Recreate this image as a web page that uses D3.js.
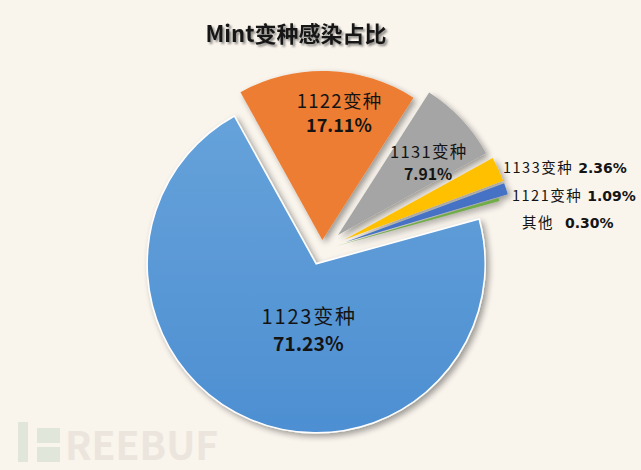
<!DOCTYPE html>
<html><head><meta charset="utf-8">
<script src="https://cdn.jsdelivr.net/npm/d3@7/dist/d3.min.js"></script>
<style>
html,body{margin:0;padding:0;background:#f9f4ec;}
svg{display:block;}
text{font-family:"Noto Sans CJK SC","Noto Sans",sans-serif;}
</style></head>
<body>
<script>
// ---- data ----
const categories = ["1123变种","1122变种","1131变种","1133变种","1121变种","其他"];
const values = [71.23, 17.11, 7.91, 2.36, 1.09, 0.30];
const valueLabels = ["71.23%","17.11%","7.91%","2.36%","1.09%","0.30%"];
const colors = ["#5b9bd5","#ed7d31","#a5a5a5","#ffc000","#4472c4","#70ad47"];
const title = "Mint变种感染占比";

// ---- layout ----
const W = 641, H = 470;
const cx = 322, cy = 250, R = 169;
const explode = [15, 10, 22, 25, 25, 15];
const deg = Math.PI / 180;
const startAngle = 74.6 * deg;
const valFont = "DejaVu Sans, Verdana, sans-serif";

const svg = d3.select("body").append("svg").attr("width", W).attr("height", H);
svg.append("rect").attr("width", W).attr("height", H).attr("fill", "#f9f4ec");

const defs = svg.append("defs");
const f = defs.append("filter").attr("id","sh").attr("x","-20%").attr("y","-20%").attr("width","140%").attr("height","140%");
f.append("feGaussianBlur").attr("in","SourceAlpha").attr("stdDeviation",3).attr("result","b");
f.append("feOffset").attr("in","b").attr("dx",2.5).attr("dy",3).attr("result","o");
f.append("feComponentTransfer").attr("in","o").attr("result","o2")
  .append("feFuncA").attr("type","linear").attr("slope",0.38);
const m = f.append("feMerge");
m.append("feMergeNode").attr("in","o2");
m.append("feMergeNode").attr("in","SourceGraphic");

const tf = defs.append("filter").attr("id","tsh").attr("x","-10%").attr("y","-30%").attr("width","120%").attr("height","160%");
tf.append("feGaussianBlur").attr("in","SourceAlpha").attr("stdDeviation",1.2).attr("result","b");
tf.append("feOffset").attr("in","b").attr("dx",1.5).attr("dy",1.5).attr("result","o");
tf.append("feComponentTransfer").attr("in","o").attr("result","o2")
  .append("feFuncA").attr("type","linear").attr("slope",0.45);
const tm = tf.append("feMerge");
tm.append("feMergeNode").attr("in","o2");
tm.append("feMergeNode").attr("in","SourceGraphic");

const grad = defs.append("linearGradient").attr("id","g0").attr("x1","0").attr("y1","0").attr("x2","0").attr("y2","1");
grad.append("stop").attr("offset","0%").attr("stop-color","#66a2da");
grad.append("stop").attr("offset","100%").attr("stop-color","#4d8fd2");

// watermark
const wm = svg.append("g");
wm.append("rect").attr("x",18).attr("y",422).attr("width",10).attr("height",40).attr("fill","#e1e6da");
wm.append("rect").attr("x",37).attr("y",428).attr("width",23).attr("height",15).attr("fill","#e1e6da");
wm.append("rect").attr("x",37).attr("y",447).attr("width",23).attr("height",15).attr("fill","#e1e6da");
wm.append("text").attr("x",65).attr("y",460).attr("font-size",39).attr("font-weight","bold")
  .attr("font-family","DejaVu Sans Condensed, DejaVu Sans, sans-serif")
  .attr("fill","#ebe5dd").text("REEBUF");

const pie = d3.pie().sort(null).value(d => d).startAngle(startAngle).endAngle(startAngle + 2*Math.PI);
const arcs = pie(values);
const arc = d3.arc().innerRadius(0).outerRadius(R);

const g = svg.append("g").attr("transform", `translate(${cx},${cy})`);
const order = [1,2,3,4,5,0];
order.forEach(i => {
  const a = arcs[i];
  const mid = (a.startAngle + a.endAngle) / 2;
  const dx = Math.sin(mid) * explode[i], dy = -Math.cos(mid) * explode[i];
  g.append("path").attr("d", arc(a))
    .attr("transform", `translate(${dx},${dy})`)
    .attr("fill", i === 0 ? "url(#g0)" : colors[i])
    .attr("stroke", i === 0 ? "#ffffff" : "none")
    .attr("stroke-width", i === 0 ? 1.5 : 0)
    .attr("filter", "url(#sh)");
});

// title
svg.append("text").attr("x", 296).attr("y", 42).attr("text-anchor","middle")
  .attr("font-size", 22).attr("font-weight","bold").attr("fill","#151515")
  .attr("filter","url(#tsh)").text(title);

// inside labels (polar placement from pie centre)
const inside = [
  {i:0, ang:190, dist:79, fs:20, ls:1.8, fv:19.4, dyc:-4, gap:27},
  {i:1, ang:6.9, dist:141, fs:18.5, ls:1.3, fv:18, dyc:-2.5, gap:24},
  {i:2, ang:50.3, dist:138, fs:16.5, ls:1.3, fv:15.8, dyc:-3.5, gap:22}
];
inside.forEach(L => {
  const x = cx + Math.sin(L.ang*deg)*L.dist, y = cy - Math.cos(L.ang*deg)*L.dist;
  svg.append("text").attr("text-anchor","middle").attr("fill","#141414")
    .attr("x", x + L.ls/2).attr("y", y + L.dyc).attr("font-size", L.fs)
    .attr("letter-spacing", L.ls).text(categories[L.i]);
  svg.append("text").attr("text-anchor","middle").attr("fill","#141414")
    .attr("x", x).attr("y", y + L.dyc + L.gap).attr("font-size", L.fv)
    .attr("font-family", valFont).attr("font-weight","bold").text(valueLabels[L.i]);
});

// outside labels
const outside = [
  {i:3, x:503, y:173, gap:5},
  {i:4, x:512, y:201, gap:5},
  {i:5, x:522, y:228, gap:11}
];
outside.forEach(L => {
  const t = svg.append("text").attr("x", L.x).attr("y", L.y).attr("font-size", 14.5).attr("fill","#141414");
  t.append("tspan").attr("letter-spacing", 1.5).text(categories[L.i]);
  t.append("tspan").attr("dx", L.gap).attr("font-family", valFont).attr("font-size", 14)
    .attr("font-weight","bold").text(valueLabels[L.i]);
});
</script>
</body></html>
